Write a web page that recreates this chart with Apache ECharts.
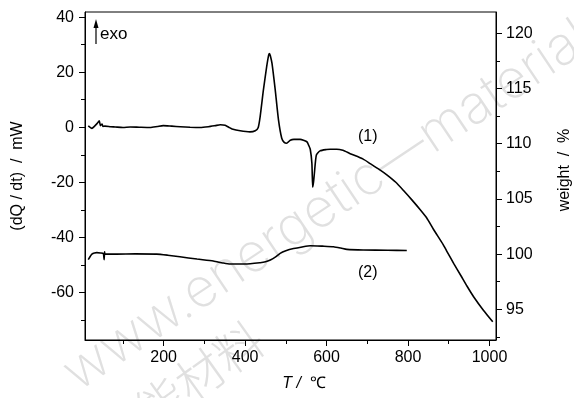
<!DOCTYPE html>
<html>
<head>
<meta charset="utf-8">
<script src="https://cdn.jsdelivr.net/npm/echarts@6/dist/echarts.min.js"></script>
<style>
  html, body { margin: 0; padding: 0; background: #fff; }
  #chart { width: 574px; height: 398px; }
</style>
</head>
<body>
<div id="chart"></div>
<script>
// DSC heat-flow curve (1): temperature / °C and heat flow / mW
const dscTemp = [15, 24, 30, 37, 42, 45, 49, 51, 56, 70, 81, 100, 118, 140, 167, 185, 199, 220, 241, 265, 290, 310, 327, 339, 351, 360, 368, 388, 412, 425, 432, 437, 445, 453, 458, 460, 462, 466, 474, 482, 490, 496, 502, 511, 520, 535, 545, 552, 556, 560, 564, 566, 568, 570, 575, 584, 600, 609, 625, 640, 658, 690, 707, 730, 748, 770, 789, 810, 830, 846, 862, 886, 895, 912, 930, 945, 961, 985, 1008];
const dscFlow = [0.5, -0.4, 0.3, 1.4, 2.3, 0.6, 1.2, 0.3, 0.4, 0.2, 0.1, -0.1, 0.1, 0, -0.1, 0.3, 0.6, 0.4, 0.2, 0, -0.1, 0.2, 0.6, 0.9, 0.7, 0, -0.6, -1.3, -1.7, -1.3, -0.2, 3.9, 13.6, 22, 26.3, 26.8, 26, 23.3, 13.6, 2.7, -4, -5.5, -5.8, -4.7, -4.4, -4.4, -4.8, -5.3, -6.5, -8.0, -13.1, -21.8, -20, -17, -10.1, -8.6, -8.1, -8.0, -8.0, -8.4, -9.6, -11.6, -13.2, -15.4, -17.3, -20, -23, -26.5, -30, -33, -37, -42.6, -45, -49.5, -54, -57.8, -61.6, -66.5, -70.7];

// TG curve (2): temperature / °C and remaining weight / %
const tgTemp = [15, 20, 24, 30, 36, 45, 52, 54, 55, 56, 85, 130, 183, 210, 240, 282, 322, 345, 363, 400, 437, 450, 462, 475, 486, 500, 519, 540, 560, 590, 617, 635, 650, 690, 750, 797];
const tgWeight = [99.5, 99.8, 100.0, 100.1, 100.13, 100.1, 100.05, 99.5, 100.2, 100.0, 100.0, 100.02, 100.0, 99.9, 99.76, 99.55, 99.37, 99.2, 99.1, 99.1, 99.22, 99.3, 99.47, 99.75, 100.07, 100.3, 100.5, 100.65, 100.76, 100.72, 100.67, 100.55, 100.43, 100.37, 100.35, 100.33];

// Tick positions
const tempTicks = [200, 400, 600, 800, 1000];
const tempMinorTicks = [100, 300, 500, 700, 900];
const flowTicks = [-60, -40, -20, 0, 20, 40];
const flowMinorTicks = [-70, -50, -30, -10, 10, 30];
const weightTicks = [95, 100, 105, 110, 115, 120];
const weightMinorTicks = [92.5, 97.5, 102.5, 107.5, 112.5, 117.5];

const FONT = '"Liberation Sans", Arial, sans-serif';
const INK = '#000';

const zip = (a, b) => a.map((v, i) => [v, b[i]]);

const labelStyle = { color: INK, fontFamily: FONT, fontSize: 16, formatter: v => String(v) };

function majorAxis(extra) {
  return Object.assign({
    type: 'value',
    splitLine: { show: false },
    axisLine: { show: true, onZero: false, lineStyle: { color: INK, width: 1 } },
    axisTick: { show: true, inside: false, length: 6, lineStyle: { color: INK } },
  }, extra);
}
function minorAxis(extra) {
  return Object.assign({
    type: 'value',
    splitLine: { show: false },
    axisLine: { show: false, onZero: false },
    axisLabel: { show: false },
    axisTick: { show: true, inside: false, length: 4, lineStyle: { color: INK } },
  }, extra);
}

const chart = echarts.init(document.getElementById('chart'), null, { renderer: 'canvas' });

chart.setOption({
  animation: false,
  backgroundColor: '#fff',
  grid: { left: 85, right: 78, top: 12, bottom: 58, show: true, borderColor: INK, borderWidth: 1, backgroundColor: 'transparent' },
  xAxis: [
    majorAxis({
      min: 7, max: 1016, position: 'bottom',
      axisLabel: Object.assign({ customValues: tempTicks, margin: 10 }, labelStyle),
      axisTick: { show: true, length: 6, customValues: tempTicks, lineStyle: { color: INK } }
    }),
    minorAxis({
      min: 7, max: 1016, position: 'bottom',
      axisTick: { show: true, length: 4, customValues: tempMinorTicks, lineStyle: { color: INK } }
    })
  ],
  yAxis: [
    majorAxis({
      min: -77.35, max: 41.9, position: 'left',
      axisLabel: Object.assign({ customValues: flowTicks, margin: 11 }, labelStyle),
      axisTick: { show: true, length: 6, customValues: flowTicks, lineStyle: { color: INK } }
    }),
    majorAxis({
      min: 92.22, max: 121.93, position: 'right',
      axisLabel: Object.assign({ customValues: weightTicks, margin: 10 }, labelStyle),
      axisTick: { show: true, length: 6, customValues: weightTicks, lineStyle: { color: INK } }
    }),
    minorAxis({
      min: -77.35, max: 41.9, position: 'left',
      axisTick: { show: true, length: 4, customValues: flowMinorTicks, lineStyle: { color: INK } }
    }),
    minorAxis({
      min: 92.22, max: 121.93, position: 'right',
      axisTick: { show: true, length: 4, customValues: weightMinorTicks, lineStyle: { color: INK } }
    })
  ],
  series: [
    {
      name: '(1)', type: 'line', xAxisIndex: 0, yAxisIndex: 0,
      data: zip(dscTemp, dscFlow), showSymbol: false, smooth: 0.2,
      lineStyle: { color: INK, width: 1.6 }, z: 5
    },
    {
      name: '(2)', type: 'line', xAxisIndex: 0, yAxisIndex: 1,
      data: zip(tgTemp, tgWeight), showSymbol: false, smooth: 0.2,
      lineStyle: { color: INK, width: 1.6 }, z: 5
    }
  ],
  graphic: [
    // faint publisher watermark
    {
      type: 'text', x: 54, y: 356, rotation: 0.59, z: -10, silent: true,
      style: { text: 'www.energetic—materials.org.cn', font: '200 54px Inter, Lato, "Liberation Sans", sans-serif', fill: '#e0e0e0' }
    },
    {
      type: 'text', x: 88, y: 425, rotation: 0.62, z: -10, silent: true,
      style: { text: '含能材料', font: '300 48px "Noto Sans CJK SC", sans-serif', fill: '#e0e0e0' }
    },
    // curve labels
    { type: 'text', x: 358, y: 129, style: { text: '(1)', font: '16px ' + FONT, fill: INK } },
    { type: 'text', x: 358, y: 265, style: { text: '(2)', font: '16px ' + FONT, fill: INK } },
    // exothermic direction marker
    { type: 'line', shape: { x1: 96, y1: 44, x2: 96, y2: 26 }, style: { stroke: INK, lineWidth: 1.2 } },
    { type: 'polygon', shape: { points: [[96, 19], [93.5, 28], [98.5, 28]] }, style: { fill: INK } },
    { type: 'text', x: 100, y: 26, style: { text: 'exo', font: '17px ' + FONT, fill: INK } },
    // axis titles
    {
      type: 'text', x: 18, y: 176, rotation: Math.PI / 2,
      style: { text: '(dQ / dt)  /  mW', font: '16px ' + FONT, fill: INK, align: 'center', verticalAlign: 'middle' }
    },
    {
      type: 'text', x: 565, y: 170, rotation: Math.PI / 2,
      style: { text: 'weight  /  %', font: '16px ' + FONT, fill: INK, align: 'center', verticalAlign: 'middle' }
    },
    {
      type: 'text', x: 304, y: 384,
      style: {
        text: '{i|T}{i| / } ℃', font: '16px ' + FONT, fill: INK, align: 'center', verticalAlign: 'middle',
        rich: { i: { fontStyle: 'italic', fontFamily: FONT, fontSize: 16, fill: INK } }
      }
    }
  ]
});
</script>
</body>
</html>
